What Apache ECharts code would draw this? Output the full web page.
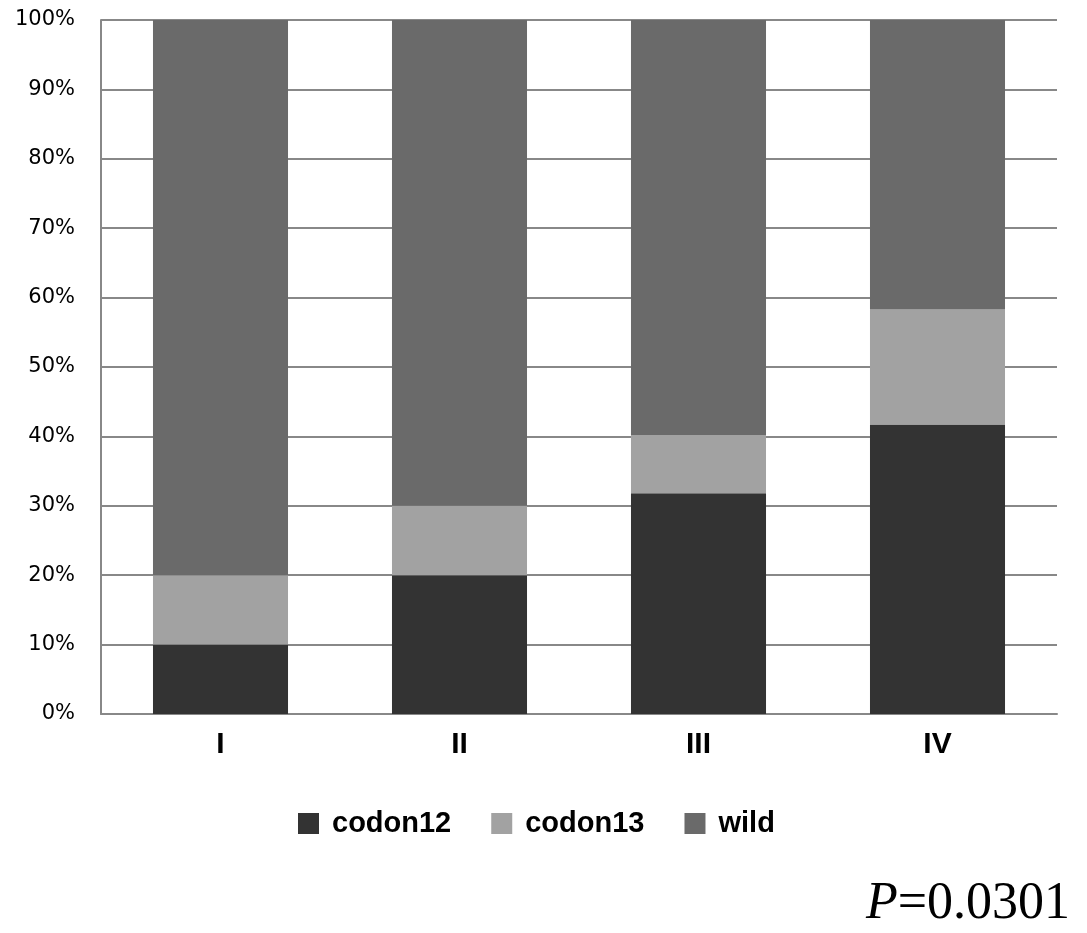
<!DOCTYPE html>
<html>
<head>
<meta charset="utf-8">
<script src="https://cdn.jsdelivr.net/npm/echarts@6/dist/echarts.min.js"></script>
<style>
html,body{margin:0;padding:0;background:#fff;}
#chart{width:1087px;height:933px;}
</style>
</head>
<body>
<div id="chart"></div>
<script>
const categories = ['I', 'II', 'III', 'IV'];
const seriesNames = ['codon12', 'codon13', 'wild'];
const codon12 = [10, 20, 31.8, 41.7];
const codon13 = [10, 10, 8.4, 16.6];
const wild = [80, 70, 59.8, 41.7];
const colors = ['#333333', '#a2a2a2', '#6a6a6a'];
const yTicks = [0, 10, 20, 30, 40, 50, 60, 70, 80, 90, 100];
const pText = '0.0301';

const chart = echarts.init(document.getElementById('chart'));
const seriesData = [codon12, codon13, wild];
chart.setOption({
  animation: false,
  backgroundColor: '#ffffff',
  grid: { left: 101, right: 30, top: 20, bottom: 219 },
  legend: {
    data: seriesNames,
    left: 293,
    top: 804,
    itemWidth: 21,
    itemHeight: 21,
    itemGap: 40,
    icon: 'rect',
    textStyle: {
      fontFamily: 'Liberation Sans',
      fontWeight: 'bold',
      fontSize: 29,
      color: '#000',
      padding: [0, 0, 0, 8]
    }
  },
  xAxis: {
    type: 'category',
    data: categories,
    axisLine: { show: true, lineStyle: { color: '#888888', width: 2 } },
    axisTick: { show: false },
    axisLabel: {
      fontFamily: 'Liberation Sans',
      fontWeight: 'bold',
      fontSize: 30,
      color: '#000',
      margin: 16
    }
  },
  yAxis: {
    type: 'value',
    min: yTicks[0],
    max: yTicks[yTicks.length - 1],
    interval: 10,
    axisLine: { show: true, lineStyle: { color: '#888888', width: 2 } },
    axisTick: { show: false },
    splitLine: { show: true, lineStyle: { color: '#888888', width: 2 } },
    axisLabel: {
      formatter: '{value}%',
      fontFamily: 'DejaVu Sans',
      fontSize: 21,
      color: '#000',
      margin: 26
    }
  },
  series: seriesNames.map((name, i) => ({
    name: name,
    type: 'bar',
    stack: 'total',
    barWidth: '56.5%',
    itemStyle: { color: colors[i] },
    data: seriesData[i]
  })),
  graphic: [{
    type: 'text',
    right: 17,
    top: 878,
    style: {
      text: '{i|P}{n|=' + pText + '}',
      rich: {
        i: { fontFamily: 'Liberation Serif', fontStyle: 'italic', fontSize: 52, fill: '#000' },
        n: { fontFamily: 'Liberation Serif', fontSize: 52, fill: '#000' }
      }
    }
  }]
});
</script>
</body>
</html>
